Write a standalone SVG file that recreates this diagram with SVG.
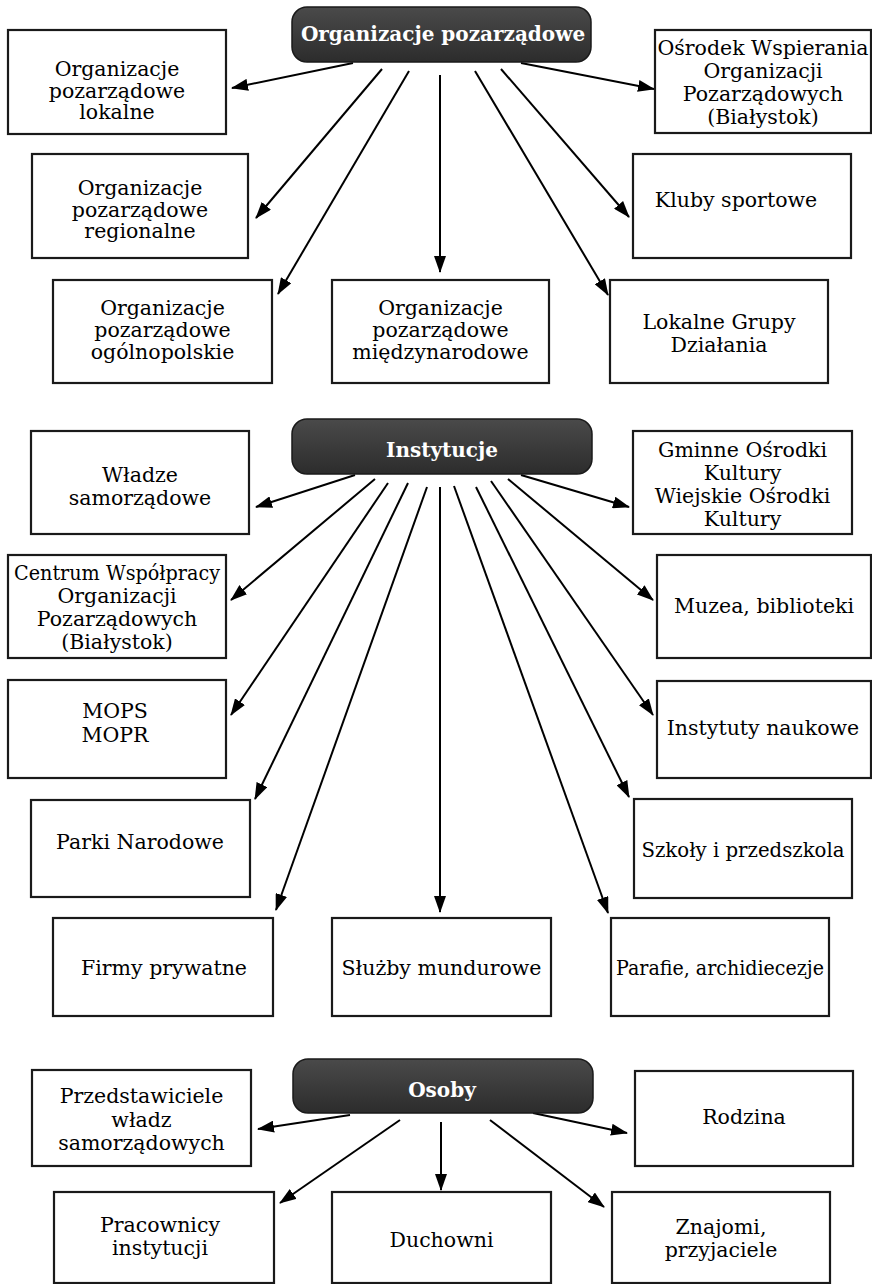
<svg xmlns="http://www.w3.org/2000/svg" width="872" height="1284" viewBox="0 0 872 1284">
<defs>
<linearGradient id="hg" x1="0" y1="0" x2="0" y2="1">
<stop offset="0" stop-color="#4a4a4a"/>
<stop offset="1" stop-color="#2c2c2c"/>
</linearGradient>
<marker id="ah" viewBox="0 0 17 12" refX="16" refY="6" markerWidth="17" markerHeight="12" markerUnits="userSpaceOnUse" orient="auto">
<path d="M0,0 L17,6 L0,12 z" fill="#000"/>
</marker>
<style>
.box{fill:#fff;stroke:#1a1a1a;stroke-width:2.2}
.hdr{fill:url(#hg);stroke:#1a1a1a;stroke-width:1.5}
.t{font-family:"DejaVu Serif","Liberation Serif",serif;font-size:20.5px;fill:#000;text-anchor:middle}
.h{font-family:"DejaVu Serif","Liberation Serif",serif;font-size:20px;font-weight:bold;fill:#fff;text-anchor:middle}
.c line{stroke:#000;stroke-width:2;marker-end:url(#ah)}
</style>
</defs>
<rect width="872" height="1284" fill="#fff"/>

<g id="connectors" class="c">
<line x1="353" y1="63" x2="232" y2="88"/>
<line x1="382" y1="69" x2="256" y2="218"/>
<line x1="409" y1="71" x2="278" y2="294"/>
<line x1="440" y1="75" x2="440" y2="272"/>
<line x1="475" y1="71" x2="608" y2="295"/>
<line x1="501" y1="69" x2="629" y2="217"/>
<line x1="521" y1="63" x2="654" y2="89"/>

<line x1="355" y1="475" x2="256" y2="507"/>
<line x1="375" y1="479" x2="231" y2="600"/>
<line x1="388" y1="483" x2="231" y2="715"/>
<line x1="408" y1="483" x2="255" y2="799"/>
<line x1="427" y1="487" x2="276" y2="910"/>
<line x1="440" y1="487" x2="440" y2="912"/>
<line x1="454" y1="486" x2="608" y2="913"/>
<line x1="476" y1="487" x2="629" y2="797"/>
<line x1="491" y1="481" x2="653" y2="715"/>
<line x1="508" y1="479" x2="653" y2="600"/>
<line x1="521" y1="475" x2="629" y2="507"/>

<line x1="350" y1="1115" x2="258" y2="1129"/>
<line x1="400" y1="1120" x2="280" y2="1203"/>
<line x1="441" y1="1122" x2="441" y2="1190"/>
<line x1="490" y1="1120" x2="604" y2="1207"/>
<line x1="533" y1="1113" x2="627" y2="1133"/>
</g>

<g id="h-org">
<rect class="hdr" x="292" y="7" width="299" height="55" rx="15"/>
<text class="h" x="443" y="41">Organizacje pozarządowe</text>
</g>
<g id="n-lokalne">
<rect class="box" x="8" y="30" width="218" height="104"/>
<text class="t" x="117" y="76">Organizacje</text>
<text class="t" x="117" y="97.5">pozarządowe</text>
<text class="t" x="117" y="119">lokalne</text>
</g>
<g id="n-regionalne">
<rect class="box" x="32" y="154" width="216" height="104"/>
<text class="t" x="140" y="195">Organizacje</text>
<text class="t" x="140" y="216.5">pozarządowe</text>
<text class="t" x="140" y="238">regionalne</text>
</g>
<g id="n-ogolnopolskie">
<rect class="box" x="53" y="280" width="219" height="103"/>
<text class="t" x="162.5" y="315">Organizacje</text>
<text class="t" x="162.5" y="337">pozarządowe</text>
<text class="t" x="162.5" y="359">ogólnopolskie</text>
</g>
<g id="n-miedzynarodowe">
<rect class="box" x="332" y="280" width="217" height="103"/>
<text class="t" x="440.5" y="315">Organizacje</text>
<text class="t" x="440.5" y="337">pozarządowe</text>
<text class="t" x="440.5" y="359">międzynarodowe</text>
</g>
<g id="n-lgd">
<rect class="box" x="610" y="280" width="218" height="103"/>
<text class="t" x="719" y="329">Lokalne Grupy</text>
<text class="t" x="719" y="352">Działania</text>
</g>
<g id="n-kluby">
<rect class="box" x="633" y="154" width="218" height="104"/>
<text class="t" x="736" y="207">Kluby sportowe</text>
</g>
<g id="n-osrodek">
<rect class="box" x="655" y="30" width="216" height="103"/>
<text class="t" x="763" y="55">Ośrodek Wspierania</text>
<text class="t" x="763" y="78">Organizacji</text>
<text class="t" x="763" y="101">Pozarządowych</text>
<text class="t" x="763" y="124">(Białystok)</text>
</g>

<g id="h-inst">
<rect class="hdr" x="292" y="419" width="300" height="55" rx="15"/>
<text class="h" x="442" y="457">Instytucje</text>
</g>
<g id="n-wladze">
<rect class="box" x="31" y="431" width="218" height="103"/>
<text class="t" x="140" y="482">Władze</text>
<text class="t" x="140" y="505">samorządowe</text>
</g>
<g id="n-centrum">
<rect class="box" x="8" y="555" width="218" height="103"/>
<text class="t" x="117" y="580" textLength="206" lengthAdjust="spacingAndGlyphs">Centrum Współpracy</text>
<text class="t" x="117" y="603">Organizacji</text>
<text class="t" x="117" y="626">Pozarządowych</text>
<text class="t" x="117" y="649">(Białystok)</text>
</g>
<g id="n-mops">
<rect class="box" x="8" y="680" width="218" height="98"/>
<text class="t" x="115" y="718">MOPS</text>
<text class="t" x="115" y="742">MOPR</text>
</g>
<g id="n-parki">
<rect class="box" x="31" y="800" width="219" height="97"/>
<text class="t" x="140" y="849">Parki Narodowe</text>
</g>
<g id="n-firmy">
<rect class="box" x="53" y="918" width="220" height="98"/>
<text class="t" x="164" y="975">Firmy prywatne</text>
</g>
<g id="n-sluzby">
<rect class="box" x="332" y="918" width="219" height="98"/>
<text class="t" x="441.5" y="975">Służby mundurowe</text>
</g>
<g id="n-parafie">
<rect class="box" x="611" y="918" width="218" height="98"/>
<text class="t" x="720" y="975" textLength="208" lengthAdjust="spacingAndGlyphs">Parafie, archidiecezje</text>
</g>
<g id="n-szkoly">
<rect class="box" x="634" y="799" width="218" height="99"/>
<text class="t" x="743" y="857" textLength="203" lengthAdjust="spacingAndGlyphs">Szkoły i przedszkola</text>
</g>
<g id="n-instytuty">
<rect class="box" x="657" y="681" width="214" height="97"/>
<text class="t" x="763" y="735">Instytuty naukowe</text>
</g>
<g id="n-muzea">
<rect class="box" x="657" y="555" width="214" height="103"/>
<text class="t" x="764" y="613">Muzea, biblioteki</text>
</g>
<g id="n-gminne">
<rect class="box" x="633" y="431" width="219" height="103"/>
<text class="t" x="742.5" y="457">Gminne Ośrodki</text>
<text class="t" x="742.5" y="480">Kultury</text>
<text class="t" x="742.5" y="503">Wiejskie Ośrodki</text>
<text class="t" x="742.5" y="526">Kultury</text>
</g>

<g id="h-osoby">
<rect class="hdr" x="293" y="1059" width="300" height="54" rx="15"/>
<text class="h" x="442" y="1097">Osoby</text>
</g>
<g id="n-przedstawiciele">
<rect class="box" x="32" y="1070" width="219" height="96"/>
<text class="t" x="141.5" y="1103">Przedstawiciele</text>
<text class="t" x="141.5" y="1126.5">władz</text>
<text class="t" x="141.5" y="1150">samorządowych</text>
</g>
<g id="n-rodzina">
<rect class="box" x="635" y="1071" width="218" height="95"/>
<text class="t" x="744" y="1124">Rodzina</text>
</g>
<g id="n-pracownicy">
<rect class="box" x="54" y="1192" width="220" height="91"/>
<text class="t" x="160" y="1232">Pracownicy</text>
<text class="t" x="160" y="1255">instytucji</text>
</g>
<g id="n-duchowni">
<rect class="box" x="332" y="1192" width="219" height="91"/>
<text class="t" x="441.5" y="1247">Duchowni</text>
</g>
<g id="n-znajomi">
<rect class="box" x="612" y="1192" width="218" height="91"/>
<text class="t" x="721" y="1234">Znajomi,</text>
<text class="t" x="721" y="1257">przyjaciele</text>
</g>
</svg>
